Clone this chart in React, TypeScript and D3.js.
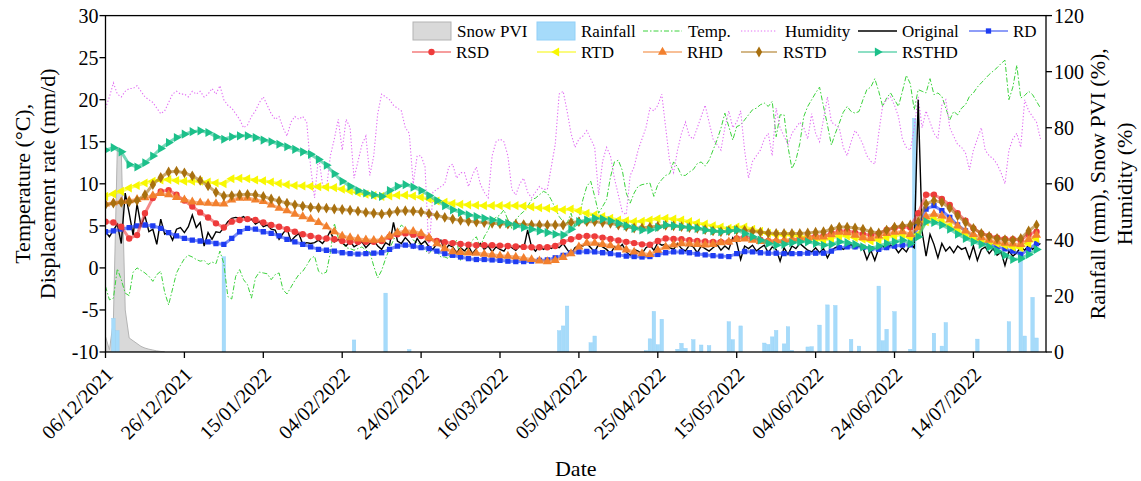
import React from 'react'
import * as d3 from 'd3'

// first day of every daily series
const START = '06/12/2021'
const xTickLabels = ['06/12/2021', '26/12/2021', '15/01/2022', '04/02/2022', '24/02/2022', '16/03/2022',
  '05/04/2022', '25/04/2022', '15/05/2022', '04/06/2022', '24/06/2022', '14/07/2022']
const leftTicks = [-10, -5, 0, 5, 10, 15, 20, 25, 30]
const rightTicks = [0, 20, 40, 60, 80, 100, 120]

// daily values (day 0 = START)
const snowPVI = [5.5, 0.8, 11, 73, 72, 15, 5, 4, 3, 2, 1.4, 1, 0.7, 0.4, 0.2, 0]

// rainfall: day offset and mm
const rainDay = [2, 3, 30, 63, 71, 77, 115, 116, 117, 123, 124, 137, 138, 139, 140, 141, 145, 146, 147, 149, 151, 153,
  158, 159, 161, 167, 168, 169, 170, 172, 173, 174, 178, 179, 181, 183, 185, 189, 191, 196, 197, 198, 200, 204, 205,
  210, 212, 213, 221, 229, 232, 233, 235, 236]
const rainfall = [12.0, 7.6, 34.0, 4.3, 21.0, 0.9, 7.6, 9.3, 16.4, 3.3, 5.7, 0.5, 4.7, 14.5, 2.6, 11.7, 1.0, 3.1, 1.3, 4.4, 2.5, 2.3,
  10.8, 4.4, 9.3, 3.2, 2.7, 5.4, 7.7, 2.9, 9.0, 0.6, 1.8, 1.9, 9.6, 16.8, 16.6, 4.5, 2.1, 23.5, 4.0, 8.1, 14.4, 1.0, 83.4,
  6.7, 2.1, 10.5, 4.6, 10.8, 36.4, 5.7, 19.5, 5.0]

const temperature = [
  -2.2, -3.8, -3.6, -0.1, -1.4, -3.0, -3.3, -0.5, 0.0, -0.3,
  -0.6, -1.0, -1.6, -0.8, -0.4, -2.9, -4.4, -2.5, -0.6, 0.3,
  1.1, 1.5, 1.3, 1.0, 0.8, 0.9, 0.4, 0.7, 0.5, 2.0,
  0.5, -3.4, -3.7, -1.0, -0.2, -1.4, -2.0, -3.6, -1.2, -0.5,
  -0.6, -0.7, -1.4, -0.8, -0.6, -2.6, -3.1, -2.3, -1.5, -0.8,
  -0.4, 0.3, 1.1, 1.4, -0.4, -0.7, -0.5, 1.8, 5.3, 3.6,
  3.0, 2.4, 2.3, 2.1, 2.3, 2.5, 2.1, 1.9, 0.2, -1.2,
  -0.3, 1.1, 2.3, 3.3, 4.3, 5.1, 4.7, 4.1, 3.3, 3.0,
  2.7, 2.1, 1.7, 2.3, 1.9, 1.3, 1.3, 1.1, 2.5, 3.3,
  0.9, 1.7, 2.5, 3.3, 3.7, 2.5, 3.7, 4.5, 5.7, 6.0,
  6.3, 6.9, 5.7, 4.7, 5.7, 6.3, 6.7, 7.3, 8.1, 8.3,
  8.7, 9.1, 8.9, 8.1, 7.1, 6.1, 5.5, 5.3, 6.5, 4.9,
  5.7, 8.1, 9.7, 10.3, 8.5, 6.5, 7.3, 8.1, 10.8, 12.6,
  12.8, 11.6, 8.9, 7.7, 8.9, 9.7, 9.9, 10.0, 10.1, 8.5,
  9.9, 10.5, 11.0, 11.2, 12.6, 12.0, 11.0, 11.0, 11.4, 11.7,
  12.4, 12.6, 12.1, 12.8, 14.0, 15.2, 16.6, 18.4, 16.8, 15.2,
  16.8, 17.0, 17.6, 18.2, 18.8, 19.0, 19.4, 19.6, 19.2, 19.8,
  15.6, 18.2, 18.2, 14.4, 11.8, 12.8, 14.8, 18.0, 19.2, 20.0,
  20.8, 21.5, 19.2, 17.0, 14.6, 16.0, 17.2, 18.5, 19.2, 18.6,
  18.4, 18.6, 20.0, 21.2, 21.5, 22.5, 21.0, 19.2, 20.2, 20.8,
  20.0, 19.2, 21.0, 22.9, 21.9, 18.8, 21.2, 21.0, 20.8, 22.5,
  20.6, 20.8, 20.4, 19.0, 17.6, 18.6, 18.2, 19.0, 19.4, 20.4,
  20.8, 21.5, 22.0, 22.5, 23.0, 23.4, 23.8, 24.3, 24.7, 20.0,
  21.5, 24.1, 20.2, 20.5, 21.0, 20.6, 19.8, 19.0]

const humidity = [
  87, 91, 96, 92, 91, 93, 94, 94, 95, 93,
  91, 90, 89, 87, 85, 86, 89, 92, 93, 92,
  92, 91, 93, 92, 93, 91, 92, 94, 92, 95,
  90, 88, 87, 85, 83, 80, 81, 84, 86, 89,
  91, 88, 85, 83, 84, 80, 77, 82, 84, 83,
  84, 82, 66, 55, 70, 60, 58, 70, 76, 83,
  72, 83, 80, 62, 68, 74, 77, 63, 70, 85,
  92, 91, 90, 88, 87, 86, 80, 78, 60, 70,
  70, 66, 35, 57, 58, 59, 60, 66, 67, 62,
  64, 64, 59, 63, 66, 60, 57, 55, 70, 75,
  76, 75, 70, 58, 56, 60, 62, 57, 55, 57,
  59, 58, 58, 66, 74, 92, 93, 86, 78, 73,
  76, 77, 79, 76, 73, 56, 68, 73, 70, 62,
  56, 50, 49, 63, 66, 72, 76, 80, 87, 86,
  88, 92, 80, 68, 64, 72, 78, 82, 77, 76,
  80, 84, 88, 82, 76, 74, 72, 80, 86, 80,
  82, 86, 72, 62, 68, 70, 72, 76, 78, 70,
  87, 80, 77, 74, 78, 80, 82, 80, 76, 85,
  78, 75, 83, 91, 82, 81, 80, 73, 70, 75,
  79, 77, 74, 70, 68, 67, 78, 88, 90, 91,
  88, 84, 76, 73, 72, 80, 91, 80, 86, 82,
  78, 76, 88, 90, 80, 77, 74, 73, 71, 65,
  72, 76, 80, 72, 70, 69, 67, 64, 60, 72,
  76, 78, 73, 90, 86, 84, 82, 76]

const original = [
  4.3, 3.7, 4.5, 5.2, 2.9, 8.9, 6.5, 3.9, 7.6, 5.0,
  6.2, 4.3, 4.6, 2.8, 5.8, 4.0, 4.3, 3.3, 4.6, 4.8,
  4.2, 4.9, 6.3, 4.8, 5.4, 2.6, 4.2, 3.4, 4.3, 4.2,
  4.8, 5.5, 5.9, 6.0, 5.9, 6.1, 5.6, 5.8, 5.2, 5.5,
  4.9, 5.1, 4.6, 4.5, 3.4, 4.1, 4.7, 3.2, 3.7, 4.1,
  2.8, 3.0, 2.9, 3.0, 3.3, 2.9, 3.5, 4.4, 3.1, 3.4,
  3.0, 2.6, 3.2, 2.5, 2.8, 3.1, 2.4, 2.9, 3.3, 2.6,
  2.2, 3.0, 2.7, 5.4, 3.2, 2.9, 3.6, 3.1, 2.4, 3.5,
  2.8, 3.2, 2.5, 2.2, 2.9, 3.3, 2.0, 2.7, 2.5, 1.8,
  2.4, 2.0, 2.6, 1.7, 2.3, 2.9, 2.2, 2.6, 1.9, 2.5,
  2.2, 2.0, 2.7, 2.4, 2.1, 2.6, 2.3, 4.5, 2.5, 2.0,
  2.6, 2.2, 2.5, 2.3, 2.6, 2.4, 2.9, 2.2, 1.6, 2.4,
  2.7, 2.6, 2.9, 2.4, 1.9, 2.8, 2.5, 2.2, 1.7, 2.5,
  2.3, 2.8, 1.9, 1.5, 2.2, 2.0, 1.7, 2.4, 2.7, 2.1,
  3.0, 2.7, 2.8, 2.4, 2.2, 2.9, 2.3, 2.0, 2.7, 2.5,
  1.8, 2.6, 2.3, 2.0, 2.4, 2.8, 2.1, 2.6, 2.2, 3.6,
  3.0, 1.0, 2.6, 2.3, 2.7, 2.0, 2.4, 2.7, 1.8, 2.5,
  2.2, 0.8, 2.4, 1.6, 2.6, 2.3, 2.9, 2.5, 2.1, 1.9,
  2.4, 1.8, 2.3, 1.2, 2.1, 2.4, 2.6, 2.2, 2.5, 2.8,
  2.3, 2.6, 2.4, 1.0, 2.1, 0.9, 2.3, 2.6, 2.2, 2.7,
  2.5, 1.8, 2.4, 1.9, 2.8, 2.4, 20.0, 4.3, 1.4, 4.0,
  2.8, 1.2, 2.9, 2.0, 2.5, 1.8, 2.6, 2.2, 2.4, 1.1,
  2.6, 0.9, 2.2, 2.5, 1.7, 2.3, 1.5, 1.9, 0.3, 2.0,
  1.4, 1.8, 2.5, 2.1, 2.7, 2.2, 2.6, 2.9]

// reconstructed rates, one value every second day from START
const RD = [4.3, 4.4, 4.6, 4.8, 5.0, 5.1, 5.0, 4.7, 4.2, 3.8,
  3.5, 3.3, 3.2, 3.1, 2.9, 2.8, 3.5, 4.3, 4.7, 4.6,
  4.3, 4.1, 3.8, 3.4, 3.1, 2.8, 2.5, 2.2, 2.1, 2.0,
  1.8, 1.7, 1.65, 1.7, 1.75, 1.8, 2.2, 2.6, 2.7, 2.6,
  2.4, 2.3, 2.0, 1.7, 1.5, 1.3, 1.1, 1.0, 1.0, 0.95,
  0.9, 0.8, 0.75, 0.75, 0.8, 0.9, 0.95, 1.2, 1.5, 1.8,
  1.9, 1.95, 1.9, 1.8, 1.7, 1.55, 1.4, 1.35, 1.3, 1.35,
  1.6, 1.8, 1.9, 1.9, 1.8, 1.65, 1.55, 1.45, 1.4, 1.35,
  1.7, 1.95, 1.9, 1.8, 1.75, 1.75, 1.7, 1.7, 1.7, 1.75,
  1.75, 1.75, 2.0, 2.4, 2.5, 2.5, 2.45, 2.3, 2.2, 2.4,
  2.6, 2.7, 2.75, 4.9, 7.0, 7.4, 6.8, 6.0, 5.1, 4.4,
  3.6, 3.1, 2.8, 2.5, 2.25, 2.0, 1.6, 2.2, 2.9]
const RSD = [5.5, 5.4, 4.9, 3.5, 3.9, 6.5, 8.3, 9.1, 9.25, 8.7,
  8.0, 7.3, 6.6, 6.0, 5.3, 4.8, 5.5, 5.7, 5.8, 5.7,
  5.4, 5.1, 4.9, 4.6, 4.3, 4.0, 3.8, 3.6, 3.5, 3.4,
  3.2, 3.1, 3.1, 3.1, 3.1, 3.2, 3.7, 4.0, 4.1, 3.95,
  3.8, 3.5, 3.2, 3.05, 2.95, 2.85, 2.75, 2.7, 2.7, 2.7,
  2.65, 2.6, 2.55, 2.5, 2.45, 2.45, 2.45, 2.6, 3.1, 3.4,
  3.7, 3.8, 3.75, 3.6, 3.45, 3.25, 3.1, 2.95, 2.8, 2.75,
  3.2, 3.5, 3.45, 3.4, 3.3, 3.2, 3.15, 3.1, 3.1, 3.1,
  3.5, 3.7, 3.5, 3.35, 3.2, 3.15, 3.1, 3.3, 3.5, 3.7,
  3.75, 3.8, 4.1, 4.4, 4.4, 4.2, 4.0, 3.9, 4.1, 4.5,
  4.75, 4.9, 4.8, 6.5, 8.7, 8.7, 8.2, 7.5, 6.5, 5.6,
  4.7, 4.1, 3.8, 3.6, 3.45, 3.4, 3.3, 4.0, 4.3]
const RTD = [8.5, 8.8, 9.1, 9.5, 9.8, 10.1, 10.3, 10.45, 10.5, 10.4,
  10.3, 10.3, 10.3, 10.2, 10.1, 10.0, 10.6, 10.65, 10.6, 10.45,
  10.35, 10.2, 10.05, 9.9, 9.8, 9.75, 9.7, 9.65, 9.6, 9.55,
  9.35, 9.15, 8.95, 8.75, 8.6, 8.5, 8.55, 8.65, 8.65, 8.55,
  8.4, 8.2, 7.95, 7.8, 7.65, 7.55, 7.5, 7.45, 7.4, 7.4,
  7.4, 7.4, 7.4, 7.35, 7.25, 7.15, 7.1, 7.0, 6.9, 7.0,
  6.8, 6.5, 6.3, 6.1, 5.9, 5.7, 5.6, 5.5, 5.55, 5.7,
  5.85, 5.9, 5.8, 5.7, 5.5, 5.35, 5.2, 5.0, 4.85, 4.7,
  4.85, 4.85, 4.6, 4.35, 4.1, 3.95, 3.9, 3.9, 3.8, 3.6,
  3.4, 3.3, 3.5, 3.8, 3.8, 3.6, 3.4, 3.2, 3.35, 3.6,
  3.8, 4.0, 3.6, 4.0, 5.5, 5.9, 5.6, 5.0, 4.5, 4.0,
  3.6, 3.3, 3.1, 2.9, 2.7, 2.5, 2.4, 2.9, 3.5]
const RHD = [7.6, 7.75, 7.9, 8.0, 8.15, 8.35, 8.6, 8.85, 8.7, 8.4,
  8.1, 7.85, 7.75, 7.7, 7.65, 7.6, 8.1, 8.3, 8.3, 8.1,
  7.9, 7.5, 7.1, 6.8, 6.4, 6.1, 5.8, 5.4, 4.9, 4.3,
  3.8, 3.6, 3.45, 3.35, 3.3, 3.35, 3.8, 4.2, 4.4, 4.35,
  4.1, 3.6, 2.9, 2.3, 1.95, 1.85, 1.8, 1.75, 1.65, 1.55,
  1.45, 1.4, 1.3, 1.15, 1.0, 0.85, 0.75, 0.9, 1.25, 1.7,
  2.5, 2.95, 2.95, 2.8, 2.65, 2.4, 2.15, 1.9, 1.7, 1.6,
  2.1, 2.5, 2.75, 2.9, 2.85, 2.8, 2.75, 2.8, 3.0, 3.1,
  3.4, 3.45, 3.3, 3.15, 3.2, 3.25, 3.3, 3.4, 3.45, 3.55,
  3.65, 3.7, 3.95, 4.25, 4.2, 3.9, 3.6, 3.5, 3.8, 4.1,
  4.25, 4.3, 4.0, 4.8, 6.1, 6.4, 6.2, 5.7, 5.0, 4.4,
  4.0, 3.6, 3.3, 3.1, 2.95, 2.85, 2.8, 3.4, 3.9]
const RSTD = [7.5, 7.7, 7.8, 7.85, 8.0, 8.7, 9.9, 10.75, 11.4, 11.5,
  11.3, 10.95, 10.4, 9.75, 9.0, 8.55, 8.6, 8.7, 8.75, 8.7,
  8.5, 8.2, 7.95, 7.7, 7.5, 7.35, 7.2, 7.15, 7.1, 7.0,
  6.95, 6.85, 6.75, 6.6, 6.5, 6.4, 6.55, 6.75, 6.8, 6.75,
  6.65, 6.45, 6.25, 6.0, 5.8, 5.65, 5.55, 5.45, 5.4, 5.3,
  5.25, 5.2, 5.2, 5.15, 5.1, 5.1, 5.1, 5.1, 5.1, 5.4,
  5.5, 5.5, 5.5, 5.4, 5.3, 5.1, 4.9, 4.75, 4.75, 4.85,
  4.95, 5.05, 5.0, 4.9, 4.8, 4.7, 4.55, 4.4, 4.3, 4.4,
  4.5, 4.45, 4.35, 4.25, 4.15, 4.1, 4.1, 4.1, 4.1, 4.15,
  4.25, 4.3, 4.6, 4.85, 4.85, 4.75, 4.6, 4.3, 4.15, 4.5,
  4.85, 5.0, 5.1, 5.5, 7.6, 8.0, 7.8, 7.1, 6.2, 5.4,
  4.7, 4.1, 3.75, 3.5, 3.35, 3.3, 3.5, 4.4, 5.1]
const RSTHD = [14.0, 14.3, 13.8, 12.3, 12.0, 12.5, 13.3, 14.2, 14.9, 15.5,
  15.9, 16.2, 16.3, 16.1, 15.6, 15.3, 15.6, 15.7, 15.7, 15.5,
  15.2, 15.0, 14.7, 14.4, 14.1, 13.8, 13.5, 12.9, 12.2, 11.2,
  10.3, 9.7, 9.2, 8.9, 8.7, 8.5, 9.2, 9.7, 9.9, 9.6,
  9.2, 8.6, 8.0, 7.4, 6.9, 6.6, 6.3, 6.1, 5.9, 5.7,
  5.5, 5.3, 5.0, 4.8, 4.6, 4.4, 4.2, 4.0, 3.9, 4.6,
  5.5, 5.7, 5.9, 5.8, 5.6, 5.3, 5.0, 4.7, 4.5, 4.5,
  4.8, 5.1, 5.0, 4.9, 4.8, 4.7, 4.5, 4.4, 4.3, 4.4,
  4.5, 4.1, 3.7, 3.3, 2.9, 2.7, 2.8, 3.0, 3.1, 3.1,
  2.9, 2.7, 2.8, 3.1, 3.0, 2.8, 2.5, 2.3, 2.6, 2.9,
  3.1, 3.3, 2.9, 3.7, 5.5, 5.4, 5.1, 4.6, 4.0, 3.5,
  3.1, 2.8, 2.5, 2.0, 1.5, 1.0, 1.1, 1.6, 2.2]

const W = 1141
const H = 481
const L = 105.5, R = 1046, T = 15.6, B = 352
const SERIF = "'Liberation Serif', 'Times New Roman', serif"

const parse = d3.utcParse('%d/%m/%Y')
const t0 = parse(START) as Date
const dayDate = (d: number) => d3.utcDay.offset(t0, d)

const x = d3.scaleUtc().domain([t0, new Date(+t0 + 238.4 * 864e5)]).range([L, R])
const yL = d3.scaleLinear().domain([-10, 30]).range([B, T])
const yR = d3.scaleLinear().domain([0, 120]).range([B, T])

const models = [
  { name: 'RD', values: RD, color: '#1e3cf2', symbol: d3.symbolSquare, size: 28, rot: 0 },
  { name: 'RSD', values: RSD, color: '#ee3b3b', symbol: d3.symbolCircle, size: 32, rot: 0 },
  { name: 'RTD', values: RTD, color: '#f8f800', symbol: d3.symbolTriangle, size: 36, rot: -90 },
  { name: 'RHD', values: RHD, color: '#f2802e', symbol: d3.symbolTriangle, size: 36, rot: 0 },
  { name: 'RSTD', values: RSTD, color: '#a8700f', symbol: d3.symbolDiamond, size: 34, rot: 0 },
  { name: 'RSTHD', values: RSTHD, color: '#1cc08a', symbol: d3.symbolTriangle, size: 36, rot: 90 },
]

const TEMP_COLOR = '#3cd23c'
const HUM_COLOR = '#e26ef3'
const RAIN_COLOR = '#a6dbfa'
const SNOW_COLOR = '#d9d9d9'

function Marker({ m, cx, cy }: { m: any, cx: number, cy: number }) {
  const d = d3.symbol().type(m.symbol).size(m.size)() as string
  return <path d={d} fill={m.color} transform={`translate(${cx},${cy}) rotate(${m.rot})`} />
}

function Label(props: any) {
  const { children, ...rest } = props
  return <text {...rest} style={{ fontFamily: SERIF }}>{children}</text>
}

export default function App() {
  const dailyX = (_: number, i: number) => x(dayDate(i))
  const twoDayX = (_: number, i: number) => x(dayDate(i * 2))
  const snowArea = d3.area<number>().x(dailyX).y0(yR(0)).y1(v => yR(v))
  const tempLine = d3.line<number>().x(dailyX).y(v => yL(v))
  const humLine = d3.line<number>().x(dailyX).y(v => yR(v))
  const origLine = d3.line<number>().x(dailyX).y(v => yL(v))
  const modelLine = d3.line<number>().x(twoDayX).y(v => yL(v))
  const barW = x(dayDate(1)) - x(dayDate(0))
  const xTicks = xTickLabels.map(s => parse(s) as Date)

  const legendRow1 = 31, legendRow2 = 52
  const cols = [412, 537, 643, 741, 858, 969]
  const symW = 39

  return (
    <svg width={W} height={H} style={{ position: 'absolute', left: 0, top: 0, background: '#fff' }}>
      <style>{`text { font-family: ${SERIF}; }`}</style>
      <defs>
        <clipPath id="plot"><rect x={L} y={T} width={R - L} height={B - T} /></clipPath>
      </defs>

      <g clipPath="url(#plot)">
        <path d={snowArea(snowPVI) as string} fill={SNOW_COLOR} stroke="#b3b3b3" strokeWidth={1} />
        {rainDay.map((d, i) => (
          <rect key={i} x={x(dayDate(d)) - barW / 2 + 0.2} width={barW - 0.4}
            y={yR(rainfall[i])} height={yR(0) - yR(rainfall[i])} fill={RAIN_COLOR} stroke="#92d0f7" strokeWidth={0.4} />
        ))}
        <path d={tempLine(temperature) as string} fill="none" stroke={TEMP_COLOR} strokeWidth={1}
          strokeDasharray="5,2,1.5,2" />
        <path d={humLine(humidity) as string} fill="none" stroke={HUM_COLOR} strokeWidth={1.1} strokeDasharray="1.3,2" />
        <path d={origLine(original) as string} fill="none" stroke="#000" strokeWidth={1.4} />
        {models.map(m => (
          <g key={m.name}>
            <path d={modelLine(m.values) as string} fill="none" stroke={m.color} strokeOpacity={0.6} strokeWidth={3} />
            {m.values.map((v, i) => <Marker key={i} m={m} cx={x(dayDate(i * 2))} cy={yL(v)} />)}
          </g>
        ))}
      </g>

      {/* frame */}
      <rect x={L} y={T} width={R - L} height={B - T} fill="none" stroke="#000" strokeWidth={1.3} />

      {/* left axis */}
      {leftTicks.map(t => (
        <g key={'l' + t}>
          <line x1={L - 6} x2={L} y1={yL(t)} y2={yL(t)} stroke="#000" strokeWidth={1.3} />
          <Label x={L - 7} y={yL(t)} dy="0.35em" textAnchor="end" fontSize={20}>{t}</Label>
        </g>
      ))}
      {/* right axis */}
      {rightTicks.map(t => (
        <g key={'r' + t}>
          <line x1={R} x2={R + 6} y1={yR(t)} y2={yR(t)} stroke="#000" strokeWidth={1.3} />
          <Label x={R + 8} y={yR(t)} dy="0.35em" textAnchor="start" fontSize={20}>{t}</Label>
        </g>
      ))}
      {/* bottom axis */}
      {xTicks.map((t, i) => (
        <g key={'x' + i}>
          <line x1={x(t)} x2={x(t)} y1={B} y2={B + 6} stroke="#000" strokeWidth={1.3} />
          <Label transform={`translate(${x(t) + 4},${B + 19}) rotate(-45)`} dy="0.35em" textAnchor="end"
            fontSize={20}>{xTickLabels[i]}</Label>
        </g>
      ))}

      {/* axis titles */}
      <Label transform={`translate(22,${(T + B) / 2}) rotate(-90)`} dy="0.35em" textAnchor="middle" fontSize={22}>
        Temperature (°C),
      </Label>
      <Label transform={`translate(47,${(T + B) / 2}) rotate(-90)`} dy="0.35em" textAnchor="middle" fontSize={22}>
        Displacement rate (mm/d)
      </Label>
      <Label transform={`translate(1097,${(T + B) / 2}) rotate(-90)`} dy="0.35em" textAnchor="middle" fontSize={22}>
        Rainfall (mm), Snow PVI (%),
      </Label>
      <Label transform={`translate(1124,${(T + B) / 2}) rotate(-90)`} dy="0.35em" textAnchor="middle" fontSize={22}>
        Humidity (%)
      </Label>
      <Label x={(L + R) / 2} y={476} textAnchor="middle" fontSize={22}>Date</Label>

      {/* legend */}
      <g>
        <rect x={cols[0] + 1} y={legendRow1 - 9} width={symW - 1} height={18} fill={SNOW_COLOR} stroke="#b3b3b3" />
        <Label fontSize={17} x={cols[0] + symW + 6} y={legendRow1} dy="0.35em">Snow PVI</Label>
        <rect x={cols[1]} y={legendRow1 - 9} width={symW - 1} height={18} fill={RAIN_COLOR} stroke="#92d0f7" />
        <Label fontSize={17} x={cols[1] + symW + 5} y={legendRow1} dy="0.35em">Rainfall</Label>
        <line x1={cols[2]} x2={cols[2] + symW} y1={legendRow1} y2={legendRow1} stroke={TEMP_COLOR} strokeDasharray="5,2,1.5,2" />
        <Label fontSize={17} x={cols[2] + symW + 6} y={legendRow1} dy="0.35em">Temp.</Label>
        <line x1={cols[3]} x2={cols[3] + 36} y1={legendRow1} y2={legendRow1} stroke={HUM_COLOR} strokeDasharray="1.3,2" />
        <Label fontSize={17} x={cols[3] + 44} y={legendRow1} dy="0.35em">Humidity</Label>
        <line x1={cols[4]} x2={cols[4] + symW} y1={legendRow1} y2={legendRow1} stroke="#000" strokeWidth={1.4} />
        <Label fontSize={17} x={cols[4] + symW + 5} y={legendRow1} dy="0.35em">Original</Label>
        {models.map((m, i) => {
          const pos = i === 0 ? { cx: cols[5], cy: legendRow1 } : { cx: cols[i - 1], cy: legendRow2 }
          const w = i === 4 ? 36 : symW
          return (
            <g key={'lg' + m.name}>
              <line x1={pos.cx} x2={pos.cx + w} y1={pos.cy} y2={pos.cy} stroke={m.color} strokeOpacity={0.5} strokeWidth={2} />
              <Marker m={m} cx={pos.cx + w / 2} cy={pos.cy} />
              <Label fontSize={17} x={pos.cx + w + (i === 4 ? 6 : 5)} y={pos.cy} dy="0.35em">{m.name}</Label>
            </g>
          )
        })}
      </g>
    </svg>
  )
}
